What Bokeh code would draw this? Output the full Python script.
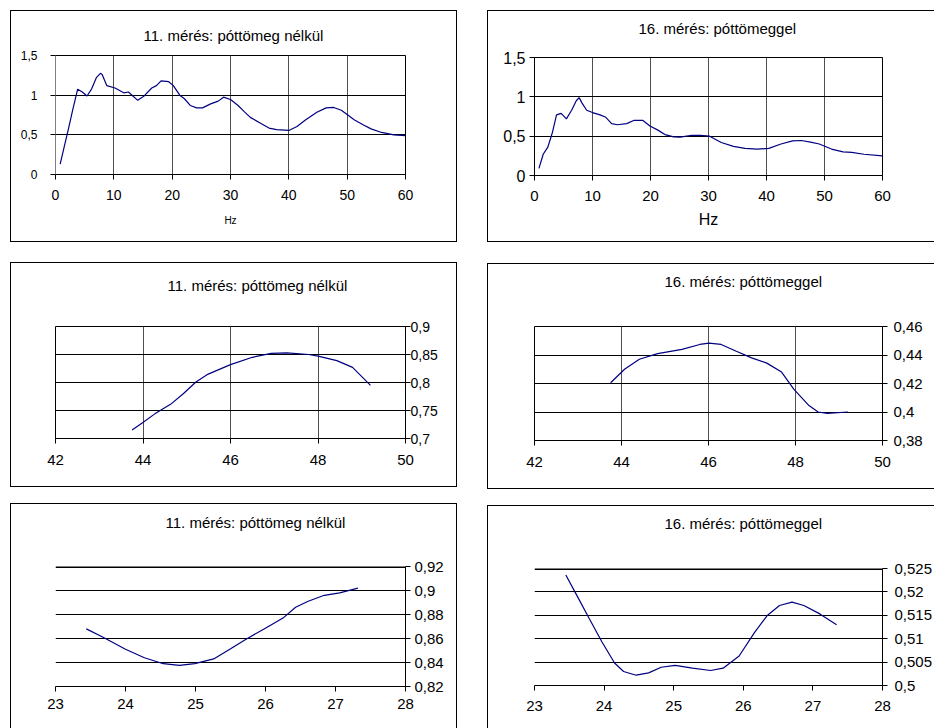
from bokeh.plotting import figure
from bokeh.models import FixedTicker, Range1d, Title, Span, LinearAxis
from bokeh.layouts import row, column
from bokeh.embed import file_html
from bokeh.resources import INLINE

# ---------------- data ----------------
TITLE_11 = "11. mérés: póttömeg nélkül"
TITLE_16 = "16. mérés: póttömeggel"
X_LABEL = "Hz"

# full spectrum, measurement 11 (no added mass)
hz_11 = [0.8, 1.5, 2.2, 3.0, 3.8, 4.6, 5.4, 6.2, 7.0, 7.7, 8.0, 8.8, 10.2, 11.7, 12.5,
         14.1, 15.2, 16.5, 17.3, 18.1, 19.4, 20.2, 21.3, 22.1, 23.1, 24.2, 25.2, 26.6,
         27.9, 28.8, 30.0, 31.3, 32.4, 33.4, 35.3, 36.6, 37.9, 40.0, 41.4, 42.9, 44.8,
         46.4, 47.7, 49.0, 50.1, 51.2, 52.8, 54.1, 55.9, 58.0, 60.0]
amp_11 = [0.13, 0.35, 0.57, 0.83, 1.075, 1.04, 0.99, 1.08, 1.22, 1.275, 1.26, 1.12, 1.09,
          1.03, 1.04, 0.935, 0.99, 1.09, 1.12, 1.18, 1.17, 1.12, 1.0, 0.955, 0.87, 0.84,
          0.84, 0.89, 0.925, 0.975, 0.945, 0.87, 0.79, 0.72, 0.64, 0.585, 0.565, 0.555,
          0.605, 0.69, 0.785, 0.84, 0.845, 0.81, 0.75, 0.69, 0.625, 0.575, 0.53, 0.50, 0.49]

# full spectrum, measurement 16 (with added mass)
hz_16 = [0.77, 1.5, 2.3, 3.1, 3.8, 4.6, 5.5, 6.4, 7.2, 7.7, 8.2, 9.0, 10.0, 11.3, 12.3,
         13.3, 14.3, 15.9, 17.1, 18.7, 19.9, 21.2, 22.5, 24.0, 25.1, 27.1, 28.6, 30.2,
         32.2, 34.3, 36.3, 38.4, 40.4, 42.5, 44.5, 46.0, 47.6, 49.1, 51.2, 53.2, 54.7,
         56.8, 60.0]
amp_16 = [0.09, 0.27, 0.36, 0.55, 0.77, 0.79, 0.72, 0.83, 0.95, 0.99, 0.92, 0.83, 0.80,
          0.77, 0.74, 0.66, 0.645, 0.66, 0.70, 0.70, 0.63, 0.58, 0.52, 0.49, 0.487, 0.51,
          0.51, 0.50, 0.42, 0.37, 0.345, 0.336, 0.345, 0.40, 0.44, 0.445, 0.425, 0.40,
          0.336, 0.30, 0.293, 0.27, 0.25]

# zoom 43.7-49.2 Hz
hz_11_hi = [43.75, 43.99, 44.27, 44.63, 44.92, 45.21, 45.49, 46.0, 46.5, 46.93, 47.29,
            47.79, 48.0, 48.43, 48.79, 49.2]
amp_11_hi = [0.715, 0.728, 0.744, 0.761, 0.780, 0.801, 0.815, 0.832, 0.845, 0.852, 0.853,
             0.850, 0.847, 0.839, 0.827, 0.795]
hz_16_hi = [43.75, 44.07, 44.41, 44.83, 45.39, 45.8, 46.01, 46.29, 46.64, 46.99, 47.34,
            47.68, 47.96, 48.31, 48.52, 48.73, 49.21]
amp_16_hi = [0.4205, 0.430, 0.437, 0.441, 0.444, 0.4474, 0.4483, 0.4474, 0.4426, 0.438,
             0.4343, 0.428, 0.416, 0.4045, 0.400, 0.399, 0.400]

# zoom 23.4-27.3 Hz
hz_11_mid = [23.44, 23.68, 24.0, 24.27, 24.54, 24.77, 24.99, 25.26, 25.49, 25.71, 25.98,
             26.25, 26.43, 26.61, 26.84, 27.06, 27.32]
amp_11_mid = [0.868, 0.861, 0.851, 0.844, 0.839, 0.8376, 0.839, 0.843, 0.851, 0.859, 0.868,
              0.877, 0.886, 0.891, 0.896, 0.898, 0.902]
hz_16_mid = [23.45, 23.61, 23.79, 23.97, 24.15, 24.28, 24.46, 24.64, 24.82, 25.02, 25.27,
             25.53, 25.71, 25.94, 26.16, 26.34, 26.52, 26.7, 26.87, 27.1, 27.34]
amp_16_mid = [0.5236, 0.5192, 0.5142, 0.5093, 0.5048, 0.503, 0.5022, 0.5027, 0.5039, 0.5043,
              0.5037, 0.5032, 0.5037, 0.5063, 0.5113, 0.5149, 0.5171, 0.5178, 0.5171,
              0.5153, 0.513]

# ticks and their labels
xt_full = [0, 10, 20, 30, 40, 50, 60]
xl_full = ["0", "10", "20", "30", "40", "50", "60"]
yt_full = [0, 0.5, 1, 1.5]
yl_full = ["0", "0,5", "1", "1,5"]
xt_hi = [42, 44, 46, 48, 50]
xl_hi = ["42", "44", "46", "48", "50"]
yt_11_hi = [0.7, 0.75, 0.8, 0.85, 0.9]
yl_11_hi = ["0,7", "0,75", "0,8", "0,85", "0,9"]
yt_16_hi = [0.38, 0.40, 0.42, 0.44, 0.46]
yl_16_hi = ["0,38", "0,4", "0,42", "0,44", "0,46"]
xt_mid = [23, 24, 25, 26, 27, 28]
xl_mid = ["23", "24", "25", "26", "27", "28"]
yt_11_mid = [0.82, 0.84, 0.86, 0.88, 0.90, 0.92]
yl_11_mid = ["0,82", "0,84", "0,86", "0,88", "0,9", "0,92"]
yt_16_mid = [0.5, 0.505, 0.51, 0.515, 0.52, 0.525]
yl_16_mid = ["0,5", "0,505", "0,51", "0,515", "0,52", "0,525"]

FONT = "Liberation Sans"
LINE = "#000080"


def style_axis(ax, ticks, labels, fs, so):
    ax.ticker = FixedTicker(ticks=ticks, minor_ticks=[])
    ax.major_label_overrides = dict(zip(ticks, labels))
    ax.major_tick_out = 5
    ax.major_tick_in = 0
    ax.minor_tick_out = 0
    ax.minor_tick_in = 0
    ax.major_tick_line_color = "black"
    ax.axis_line_color = "black"
    ax.major_label_text_font = FONT
    ax.major_label_text_font_size = fs
    ax.major_label_text_color = "black"
    ax.major_label_standoff = so


def panel(xs, ys, title, xr, xt, xl, yr, yt, yl, *, w, h, mb, yside, vgrid, outline,
          t_off, t_gap, t_size, xfs, yfs, xso, yso, border, margin,
          xlabel=None, xlabel_fs="10px", xlabel_so=5, yaxis_color="black"):
    p = figure(width=w, height=h, x_range=Range1d(*xr), y_range=Range1d(*yr),
               output_backend="svg", toolbar_location=None, y_axis_location=yside,
               min_border_left=mb[0], min_border_right=mb[1], min_border_top=mb[2],
               min_border_bottom=mb[3], styles=border, margin=margin)
    p.line(xs, ys, line_color=LINE, line_width=1.2)

    xax = p.below[0]
    yax = p.left[0] if yside == "left" else p.right[0]
    style_axis(xax, xt, xl, xfs, xso)
    style_axis(yax, yt, yl, yfs, yso)
    yax.axis_line_color = yaxis_color
    if xlabel:
        xax.axis_label = xlabel
        xax.axis_label_text_font = FONT
        xax.axis_label_text_font_size = xlabel_fs
        xax.axis_label_text_font_style = "normal"
        xax.axis_label_text_color = "black"
        xax.axis_label_standoff = xlabel_so

    # invisible spacer (undrawn tick, no line, undrawn label) lifting the title off the frame
    spacer = LinearAxis(ticker=FixedTicker(ticks=[xt[1]], minor_ticks=[]),
                        major_tick_out=t_gap, major_tick_in=0, minor_tick_out=0,
                        minor_tick_in=0, axis_line_color=None, major_tick_line_color=None,
                        minor_tick_line_color=None, major_label_standoff=0,
                        major_label_text_color=None, major_label_text_font_size="1px")
    p.add_layout(spacer, "above")
    p.add_layout(Title(text=title, align="left", offset=t_off, text_font=FONT,
                       text_font_size=t_size, text_font_style="normal",
                       text_color="black", standoff=4), "above")

    p.xgrid.ticker = FixedTicker(ticks=xt, minor_ticks=[])
    p.ygrid.ticker = FixedTicker(ticks=yt, minor_ticks=[])
    p.xgrid.grid_line_color = "#505050" if vgrid else None
    p.ygrid.grid_line_color = "black"
    if outline:
        p.outline_line_color = "black"
    else:
        p.outline_line_color = None
        p.add_layout(Span(location=yr[1], dimension="width", line_color="black",
                          line_width=3))
    p.background_fill_color = "white"
    p.border_fill_color = "white"
    return p


B = "1px solid black"
full_box = {"border": B}
right_box = {"border-left": B, "border-top": B, "border-bottom": B}
bottom_left_box = {"border-left": B, "border-top": B, "border-right": B}
bottom_right_box = {"border-left": B, "border-top": B}

p1 = panel(hz_11, amp_11, TITLE_11, (0, 60), xt_full, xl_full, (0, 1.5), yt_full, yl_full,
           w=447, h=232, mb=(44, 24, 44, 69), yside="left", vgrid=True, outline=True,
           t_off=88, t_gap=10, t_size="15px", xfs="14px", yfs="12px", xso=10, yso=13,
           border=full_box, margin=(10, 0, 0, 10), xlabel=X_LABEL, xlabel_fs="10px",
           xlabel_so=12, yaxis_color="#808080")
p2 = panel(hz_16, amp_16, TITLE_16, (0, 60), xt_full, xl_full, (0, 1.5), yt_full, yl_full,
           w=447, h=232, mb=(46, 9, 46, 68), yside="left", vgrid=True, outline=True,
           t_off=104, t_gap=19, t_size="15px", xfs="15px", yfs="16px", xso=10, yso=4,
           border=right_box, margin=(10, 0, 0, 30), xlabel=X_LABEL, xlabel_fs="16px",
           xlabel_so=7)
p3 = panel(hz_11_hi, amp_11_hi, TITLE_11, (42, 50), xt_hi, xl_hi, (0.7, 0.9), yt_11_hi,
           yl_11_hi, w=447, h=225, mb=(20, 53, 63, 50), yside="right", vgrid=True,
           outline=True, t_off=112, t_gap=31, t_size="15px", xfs="15px", yfs="14px",
           xso=11, yso=0, border=full_box, margin=(20, 0, 0, 10))
p4 = panel(hz_16_hi, amp_16_hi, TITLE_16, (42, 50), xt_hi, xl_hi, (0.38, 0.46), yt_16_hi,
           yl_16_hi, w=447, h=226, mb=(20, 42, 62, 50), yside="right", vgrid=True,
           outline=True, t_off=130, t_gap=35, t_size="15px", xfs="15px", yfs="15px",
           xso=11, yso=6, border=right_box, margin=(21, 0, 0, 30))
p5 = panel(hz_11_mid, amp_11_mid, TITLE_11, (23, 28), xt_mid, xl_mid, (0.82, 0.92),
           yt_11_mid, yl_11_mid, w=447, h=225, mb=(22, 53, 62, 43), yside="right",
           vgrid=False, outline=False, t_off=110, t_gap=34, t_size="15px", xfs="15px",
           yfs="15px", xso=7, yso=4, border=bottom_left_box, margin=(16, 0, 0, 10))
p6 = panel(hz_16_mid, amp_16_mid, TITLE_16, (23, 28), xt_mid, xl_mid, (0.5, 0.525),
           yt_16_mid, yl_16_mid, w=447, h=223, mb=(20, 53, 62, 44), yside="right",
           vgrid=False, outline=False, t_off=130, t_gap=35, t_size="15px", xfs="15px",
           yfs="15px", xso=10, yso=7, border=bottom_right_box, margin=(16, 0, 0, 30))

layout = row(column(p1, p3, p5, spacing=0), column(p2, p4, p6, spacing=0), spacing=0)

open("out.html", "w").write(file_html(layout, INLINE))
